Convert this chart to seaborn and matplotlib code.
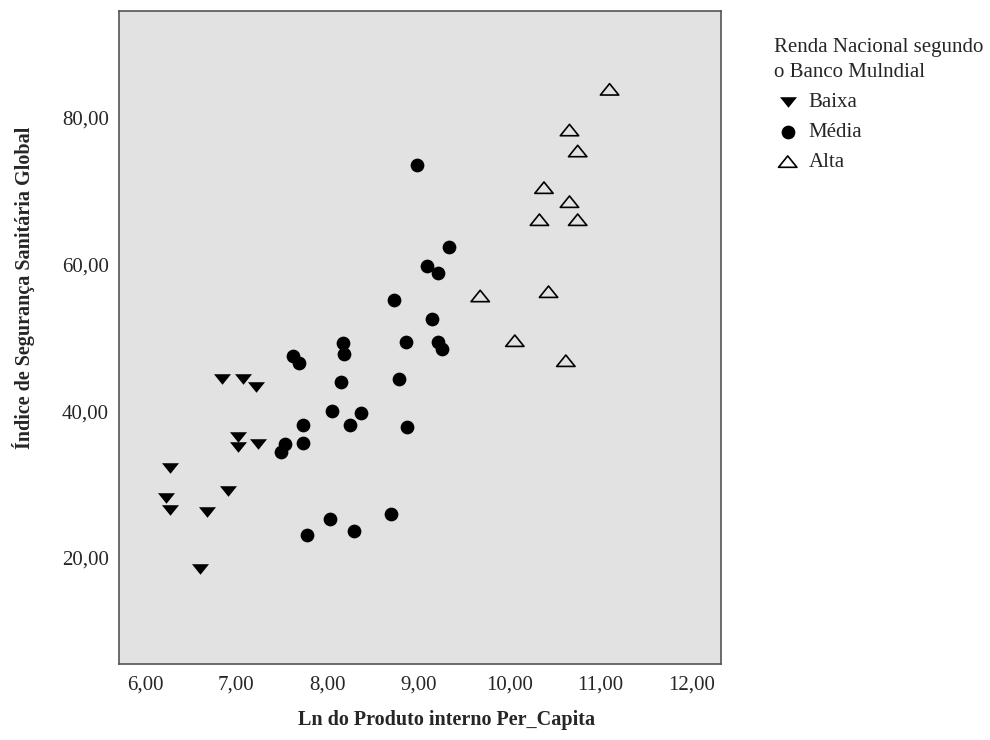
import matplotlib
matplotlib.use('Agg')
import matplotlib.pyplot as plt
from matplotlib.path import Path
import pandas as pd
import seaborn as sns

# Values
baixa_x = [6.85, 7.08, 7.22, 7.02, 7.02, 7.24, 6.27, 6.23, 6.27, 6.68, 6.91, 6.61]
baixa_y = [44.37, 44.37, 43.36, 36.54, 35.18, 35.54, 32.23, 28.14, 26.54, 26.23, 29.18, 18.46]

media_x = [7.62, 7.69, 8.17, 8.19, 8.15, 8.05, 8.37, 8.25, 7.74, 7.73, 7.54, 7.49,
           8.03, 7.78, 8.30, 8.99, 9.34, 9.10, 9.22, 8.73, 9.15, 8.87, 9.22, 9.26,
           8.79, 8.88, 8.70]
media_y = [47.54, 46.63, 49.36, 47.78, 43.96, 40.04, 39.73, 38.18, 38.18, 35.64, 35.50, 34.49,
           25.27, 23.09, 23.68, 73.59, 62.45, 59.82, 58.82, 55.14, 52.59, 49.41, 49.45, 48.46,
           44.45, 37.86, 26.00]

alta_x = [11.10, 10.66, 10.75, 10.38, 10.66, 10.33, 10.75, 9.68, 10.43, 10.06, 10.62]
alta_y = [83.91, 78.36, 75.50, 70.50, 68.59, 66.13, 66.13, 55.73, 56.31, 49.63, 46.90]

categories = ['Baixa', 'Média', 'Alta']
x_ticks = [6, 7, 8, 9, 10, 11, 12]
x_tick_labels = ['6,00', '7,00', '8,00', '9,00', '10,00', '11,00', '12,00']
y_ticks = [20, 40, 60, 80]
y_tick_labels = ['20,00', '40,00', '60,00', '80,00']

df = pd.DataFrame({
    'lnpib': baixa_x + media_x + alta_x,
    'indice': baixa_y + media_y + alta_y,
    'renda': ['Baixa'] * len(baixa_x) + ['Média'] * len(media_x) + ['Alta'] * len(alta_x),
})

sns.set_style('white')
plt.rcParams['font.family'] = ['Liberation Serif', 'DejaVu Serif']

# wide, flat triangles like the SPSS output
tri_down = Path([(-1, 0.62), (1, 0.62), (0, -0.62), (-1, 0.62)], closed=True)
tri_up = Path([(-1, -0.62), (1, -0.62), (0, 0.62), (-1, -0.62)], closed=True)

styles = {
    'Baixa': dict(marker=tri_down, s=150, color='black', edgecolor='black', linewidth=0),
    'Média': dict(marker='o', s=98, color='black', edgecolor='black', linewidth=0),
    'Alta': dict(marker=tri_up, s=175, facecolor='none', edgecolor='black', linewidth=1.2),
}

fig = plt.figure(figsize=(9.9, 7.4), dpi=100)
ax = fig.add_axes([0.1197, 0.1027, 0.6083, 0.8831])
ax.set_facecolor('#e2e2e2')

for cat in categories:
    sub = df[df['renda'] == cat]
    sns.scatterplot(data=sub, x='lnpib', y='indice', ax=ax, label=cat, **styles[cat])

ax.set_xlim(5.71, 12.32)
ax.set_ylim(5.54, 94.66)
ax.set_xticks(x_ticks)
ax.set_xticklabels(x_tick_labels)
ax.set_yticks(y_ticks)
ax.set_yticklabels(y_tick_labels)
ax.tick_params(length=0, labelsize=15)
ax.tick_params(axis='x', pad=8)
ax.tick_params(axis='y', pad=7)

for side in ['left', 'right', 'top', 'bottom']:
    ax.spines[side].set_color('#555555')
    ax.spines[side].set_linewidth(1.2)

ax.set_xlabel('Ln do Produto interno Per_Capita', fontsize=14.5, fontweight='bold')
ax.set_ylabel('Índice de Segurança Sanitária Global', fontsize=14.5, fontweight='bold')
ax.xaxis.set_label_coords(0.545, -0.086)
ax.xaxis.label.set_va('center')
ax.yaxis.set_label_coords(-0.158, 0.575)
ax.yaxis.label.set_va('center')

leg = ax.legend(title='Renda Nacional segundo\no Banco Mulndial', loc='upper left',
                bbox_to_anchor=(0.782, 0.948), bbox_transform=fig.transFigure,
                frameon=False, fontsize=15, title_fontsize=15, alignment='left',
                handlelength=1.3, handletextpad=0.35, labelspacing=0.5,
                borderpad=0, borderaxespad=0)
leg.get_title().set_linespacing(1.4)

fig.savefig('out.png', dpi=100)
